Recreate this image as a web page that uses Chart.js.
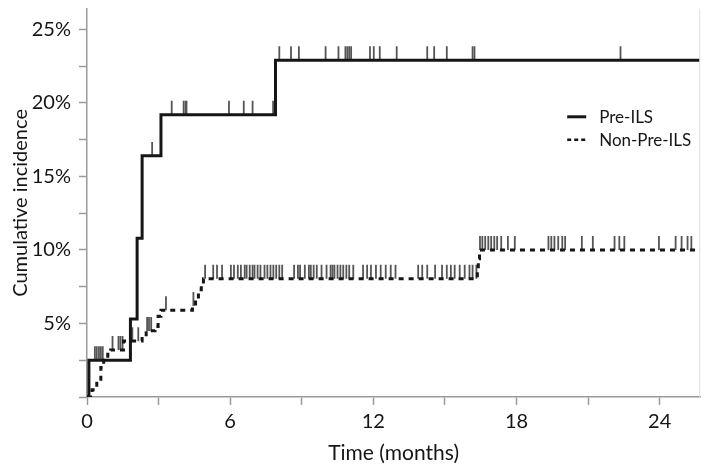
<!DOCTYPE html>
<html lang="en">
<head>
    <meta charset="UTF-8">
    <title>Cumulative incidence</title>
    <script src="https://cdn.jsdelivr.net/npm/chart.js"></script>
    <style>
        body {
            margin: 0;
            background: #fff;
        }

        #wrap {
            width: 709px;
            height: 466px;
            position: relative;
        }
    </style>
</head>
<body>
    <div id="wrap">
        <canvas id="cifChart"></canvas>
    </div>

    <script>
        // step curves (months, cumulative incidence %)
        var preTimes = [0, 0.08, 1.82, 2.1, 2.31, 3.1, 7.9, 25.7];
        var preRisk = [0, 2.5, 5.3, 10.8, 16.4, 19.2, 22.9, 22.9];

        var nonTimes = [0, 0.21, 0.41, 0.58, 0.70, 0.87, 0.99, 1.53, 2.31, 2.48, 2.85, 2.98, 3.1,
            4.42, 4.55, 4.67, 4.79, 4.88, 16.36, 16.4, 16.45, 25.7];
        var nonRisk = [0, 0.5, 1.2, 2.0, 2.5, 2.9, 3.2, 3.8, 4.1, 4.5, 4.8, 5.5, 5.9,
            6.2, 6.6, 7.3, 7.7, 8.05, 8.7, 9.4, 10.0, 10.0];

        // censoring times (months)
        var preCensored = [0.33, 0.41, 0.5, 0.58, 0.66, 2.73, 3.55, 4.05, 4.13, 4.17, 5.95, 6.57, 6.94, 7.8,
            8.06, 8.55, 8.88, 10.0, 10.54, 10.83, 10.91, 10.99, 11.07, 11.86, 12.02, 12.27, 12.98,
            14.26, 14.55, 15.08, 16.16, 16.24, 22.36];

        var nonCensored = [1.07, 1.32, 1.4, 1.49, 1.9, 2.15, 2.52, 2.6, 2.69, 3.31, 4.46,
            4.95, 5.29, 5.45, 5.66, 6.03, 6.16, 6.32, 6.45, 6.61, 6.69, 6.82, 6.94, 7.02, 7.15, 7.27,
            7.44, 7.56, 7.69, 7.81, 7.93, 8.06, 8.18, 8.68, 8.84, 8.93, 9.13, 9.3, 9.38, 9.5, 9.63,
            9.83, 10.04, 10.21, 10.29, 10.37, 10.5, 10.62, 10.74, 10.87, 10.99, 11.16, 11.57, 11.74,
            11.9, 12.11, 12.31, 12.52, 12.73, 12.93, 13.88, 14.05, 14.26, 14.59, 14.88, 15.08,
            15.25, 15.41, 15.62, 15.83, 16.03, 16.16, 16.32,
            16.47, 16.57, 16.69, 16.82, 16.94, 17.07, 17.19, 17.36, 17.64, 17.93, 19.34, 19.46,
            19.59, 19.75, 19.92, 20.04, 20.74, 21.2, 22.11, 22.31, 22.52, 23.97, 24.67, 24.92,
            25.17, 25.33];

        var xTicks = [0, 3, 6, 9, 12, 15, 18, 21, 24];
        var yTicks = [0, 2.5, 5, 7.5, 10, 12.5, 15, 17.5, 20, 22.5, 25];

        var seriesNames = ['Pre-ILS', 'Non-Pre-ILS'];

        var FONT = "Lato, 'Open Sans', sans-serif";
        var INK = '#161616';
        var TEXT = '#151515';
        var AXIS = '#9a9a9a';
        var MARK_LIFT = 0.47; // half a censor tick, in % units

        function toPoints(xs, ys) {
            return xs.map(function (x, i) { return { x: x, y: ys[i] }; });
        }

        function levelAt(xs, ys, t) {
            var level = ys[0];
            for (var i = 0; i < xs.length; i++) {
                if (xs[i] <= t) level = ys[i];
            }
            return level;
        }

        function censorPoints(times, xs, ys) {
            return times.map(function (t) {
                return { x: t, y: levelAt(xs, ys, t) + MARK_LIFT };
            });
        }

        // legend drawn inside the plot, right side
        var legendPlugin = {
            id: 'innerLegend',
            afterDatasetsDraw: function (chart) {
                var ctx = chart.ctx;
                var area = chart.chartArea;
                var x0 = area.right - 133;
                var rows = [
                    { y: area.top + 108, dash: [], width: 3 },
                    { y: area.top + 131, dash: [4, 3], width: 2.5 }
                ];
                ctx.save();
                rows.forEach(function (r, i) {
                    ctx.beginPath();
                    ctx.setLineDash(r.dash);
                    ctx.lineWidth = r.width;
                    ctx.strokeStyle = INK;
                    ctx.moveTo(x0, r.y);
                    ctx.lineTo(x0 + 19, r.y);
                    ctx.stroke();
                    ctx.setLineDash([]);
                    ctx.fillStyle = TEXT;
                    ctx.font = '17px ' + FONT;
                    ctx.textBaseline = 'middle';
                    ctx.textAlign = 'left';
                    ctx.fillText(seriesNames[i], x0 + 32, r.y + 1);
                });
                // faint frame on the right
                ctx.beginPath();
                ctx.lineWidth = 1;
                ctx.strokeStyle = '#e2e2e2';
                ctx.moveTo(area.right - 0.5, area.top);
                ctx.lineTo(area.right - 0.5, area.bottom);
                ctx.stroke();
                ctx.restore();
            }
        };

        var ctx = document.getElementById('cifChart').getContext('2d');

        new Chart(ctx, {
            type: 'line',
            data: {
                datasets: [
                    {
                        label: seriesNames[0],
                        data: toPoints(preTimes, preRisk),
                        stepped: 'before',
                        borderColor: INK,
                        borderWidth: 3,
                        pointRadius: 0,
                        fill: false,
                        order: 1
                    },
                    {
                        label: seriesNames[1],
                        data: toPoints(nonTimes, nonRisk),
                        stepped: 'before',
                        borderColor: INK,
                        borderWidth: 3,
                        borderDash: [5, 5],
                        pointRadius: 0,
                        fill: false,
                        order: 1
                    },
                    {
                        label: 'Pre-ILS censored',
                        data: censorPoints(preCensored, preTimes, preRisk),
                        showLine: false,
                        pointStyle: 'line',
                        rotation: 90,
                        pointRadius: 7,
                        pointBorderWidth: 1.8,
                        pointBorderColor: '#555',
                        order: 2
                    },
                    {
                        label: 'Non-Pre-ILS censored',
                        data: censorPoints(nonCensored, nonTimes, nonRisk),
                        showLine: false,
                        pointStyle: 'line',
                        rotation: 90,
                        pointRadius: 7,
                        pointBorderWidth: 1.8,
                        pointBorderColor: '#555',
                        order: 2
                    }
                ]
            },
            options: {
                responsive: true,
                maintainAspectRatio: false,
                animation: false,
                layout: { padding: { top: 0, right: 1, left: 0, bottom: 0 } },
                plugins: {
                    legend: { display: false },
                    tooltip: { enabled: false }
                },
                scales: {
                    x: {
                        type: 'linear',
                        min: 0,
                        max: 25.7,
                        afterBuildTicks: function (scale) {
                            scale.ticks = xTicks.map(function (v) { return { value: v }; });
                        },
                        afterFit: function (scale) {
                            scale.height = 69;
                            scale.paddingLeft = 0;
                            scale.paddingRight = 0;
                        },
                        ticks: {
                            autoSkip: false,
                            maxRotation: 0,
                            padding: 5,
                            color: TEXT,
                            font: { family: FONT, size: 20 },
                            callback: function (v) { return v % 6 === 0 ? String(v) : ''; }
                        },
                        grid: {
                            drawOnChartArea: false,
                            drawTicks: true,
                            tickLength: 8,
                            tickColor: AXIS,
                            tickWidth: 1.5
                        },
                        border: { display: true, color: AXIS, width: 1.5 },
                        title: {
                            display: true,
                            text: 'Time (months)',
                            color: TEXT,
                            font: { family: FONT, size: 21 },
                            padding: { top: 0, bottom: 0 }
                        }
                    },
                    y: {
                        min: 0,
                        max: 26.4,
                        afterBuildTicks: function (scale) {
                            scale.ticks = yTicks.map(function (v) { return { value: v }; });
                        },
                        afterFit: function (scale) {
                            scale.width = 87;
                            scale.paddingTop = 0;
                            scale.paddingBottom = 0;
                        },
                        ticks: {
                            autoSkip: false,
                            padding: 8,
                            color: TEXT,
                            font: { family: FONT, size: 20 },
                            callback: function (v) { return (v > 0 && v % 5 === 0) ? v + '%' : ''; }
                        },
                        grid: {
                            drawOnChartArea: false,
                            drawTicks: true,
                            tickLength: 8,
                            tickColor: AXIS,
                            tickWidth: 1.5
                        },
                        border: { display: true, color: AXIS, width: 1.5 },
                        title: {
                            display: true,
                            text: 'Cumulative incidence',
                            color: TEXT,
                            font: { family: FONT, size: 20 },
                            padding: { top: 9, bottom: 0 }
                        }
                    }
                }
            },
            plugins: [legendPlugin]
        });
    </script>
</body>
</html>
